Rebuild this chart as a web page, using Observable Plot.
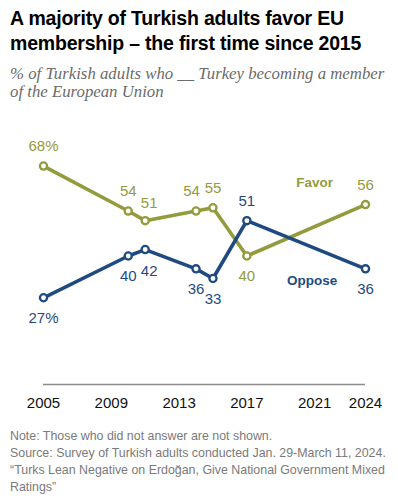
<!DOCTYPE html>
<html>
<head>
<meta charset="utf-8">
<script src="https://cdn.jsdelivr.net/npm/d3@7"></script>
<script src="https://cdn.jsdelivr.net/npm/@observablehq/plot@0.6"></script>
<style>
  html, body { margin: 0; padding: 0; background: #ffffff; }
  body { width: 398px; height: 500px; overflow: hidden; }
  #header { height: 110px; box-sizing: border-box; padding: 6px 10px 0 10px; }
  #title { font-family: "Liberation Sans", Arial, sans-serif; font-weight: bold; font-size: 19.5px; letter-spacing: -0.2px; line-height: 24.5px; color: #000; }
  #subtitle { margin-top: 10px; font-family: "Liberation Serif", serif; font-style: italic; font-size: 16.8px; line-height: 17.5px; color: #6b6b6b; white-space: nowrap; }
  #chart svg { display: block; }
  #footer { margin-top: 8px; padding: 0 10px; font-family: "Liberation Sans", Arial, sans-serif; font-size: 12.4px; line-height: 17px; color: #7a7a7a; }
</style>
</head>
<body>
<div id="header">
  <div id="title">A majority of Turkish adults favor EU membership – the first time since 2015</div>
  <div id="subtitle">% of Turkish adults who __ Turkey becoming a member<br>of the European Union</div>
</div>
<div id="chart"></div>
<div id="footer">
  <div>Note: Those who did not answer are not shown.</div>
  <div>Source: Survey of Turkish adults conducted Jan. 29-March 11, 2024.</div>
  <div>“Turks Lean Negative on Erdoğan, Give National Government Mixed Ratings”</div>
</div>
<script>
// ---- Data ----
const years = [2005, 2010, 2011, 2014, 2015, 2017, 2024];
const favor = [68, 54, 51, 54, 55, 40, 56];
const oppose = [27, 40, 42, 36, 33, 51, 36];
const tickYears = [2005, 2009, 2013, 2017, 2021, 2024];
const seriesNames = ["Favor", "Oppose"];

// ---- Build table ----
const rows = [];
years.forEach((yr, i) => {
  rows.push({year: yr, value: favor[i], series: "Favor", first: i === 0});
  rows.push({year: yr, value: oppose[i], series: "Oppose", first: i === 0});
});

const colors = {Favor: "#949b3c", Oppose: "#1f4a80"};
const labelOf = d => d.first ? d.value + "%" : String(d.value);
// favor labels go above the point, oppose below; they swap in 2017
const isAbove = d => (d.series === "Favor") !== (d.year === 2017);
// small label nudges to avoid collisions
const nudgeKind = d => d.year === 2011 ? "right" : (d.year === 2014 && d.series === "Favor") ? "left" : "none";

const labelFont = {fontSize: 15, fontFamily: "Liberation Sans, Arial, sans-serif"};
const labelMarks = [];
for (const above of [true, false]) {
  for (const [kind, dx] of [["none", 0], ["right", 4], ["left", -4.5]]) {
    const subset = rows.filter(d => isAbove(d) === above && nudgeKind(d) === kind);
    if (!subset.length) continue;
    const dy = above ? (kind === "right" ? -17 : -19.5) : (kind === "right" ? 22 : 20.5);
    labelMarks.push(Plot.text(subset, {x: "year", y: "value", text: labelOf, fill: "series", dx, dy, ...labelFont}));
  }
}

const chart = Plot.plot({
  width: 398,
  height: 310,
  marginLeft: 43,
  marginRight: 33,
  marginTop: 17,
  marginBottom: 36,
  x: {domain: [2005, 2024], axis: null},
  y: {domain: [0, 80], axis: null},
  color: {domain: seriesNames, range: seriesNames.map(s => colors[s])},
  style: {fontFamily: "Liberation Sans, Arial, sans-serif", background: "transparent"},
  marks: [
    Plot.ruleY([0], {stroke: "#8c8c8c", strokeWidth: 1.3}),
    Plot.axisX({ticks: tickYears, tickSize: 0, tickPadding: 13, tickFormat: d => String(d), fontSize: 15, color: "#111", label: null}),
    Plot.line(rows, {x: "year", y: "value", z: "series", stroke: "series", strokeWidth: 3.6, strokeLinejoin: "round"}),
    Plot.dot(rows, {x: "year", y: "value", stroke: "series", fill: "white", r: 3.6, strokeWidth: 2.3}),
    ...labelMarks,
    Plot.text([{x: 2021, y: 62.8, t: "Favor"}, {x: 2020.85, y: 32.4, t: "Oppose"}], {x: "x", y: "y", text: "t", fill: d => d.t, fontWeight: "bold", fontSize: 13.5, fontFamily: "Liberation Sans, Arial, sans-serif"})
  ]
});
document.getElementById("chart").appendChild(chart);
</script>
</body>
</html>
